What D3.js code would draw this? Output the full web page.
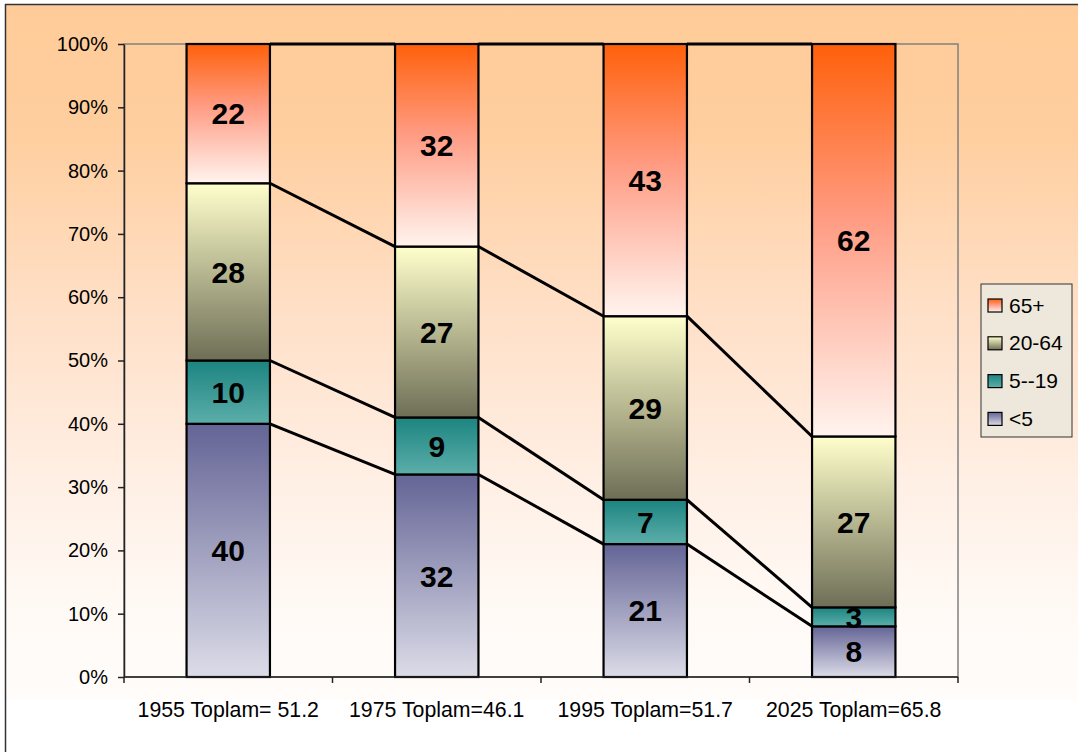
<!DOCTYPE html>
<html>
<head>
<meta charset="utf-8">
<script src="https://cdn.jsdelivr.net/npm/d3@7"></script>
<style>
  html, body { margin: 0; padding: 0; background: #ffffff; }
  svg { display: block; font-family: "Liberation Sans", Arial, sans-serif; }
</style>
</head>
<body>
<svg id="chart" width="1078" height="752"></svg>
<script>
// Age-group shares of the dependent population, by year
const categories = ["1955 Toplam= 51.2", "1975 Toplam=46.1", "1995 Toplam=51.7", "2025 Toplam=65.8"];
const seriesNames = ["<5", "5--19", "20-64", "65+"];
const under5   = [40, 32, 21, 8];
const age5to19 = [10, 9, 7, 3];
const age20to64 = [28, 27, 29, 27];
const age65plus = [22, 32, 43, 62];
const yTicks = [0, 10, 20, 30, 40, 50, 60, 70, 80, 90, 100];

const seriesValues = [under5, age5to19, age20to64, age65plus];

// gradient colours per series (top → bottom of each segment)
const gradients = {
  "<5":    [["0%", "#646496"], ["100%", "#DCDCE8"]],
  "5--19": [["0%", "#1C8480"], ["100%", "#5CAEAA"]],
  "20-64": [["0%", "#FFFFCC"], ["100%", "#6E6E56"]],
  "65+":   [["0%", "#FF600A"], ["45%", "#FF9C84"], ["100%", "#FFF4EE"]]
};
const gradId = { "<5": "g-u5", "5--19": "g-519", "20-64": "g-2064", "65+": "g-65" };

const svg = d3.select("#chart");
const defs = svg.append("defs");

// chart background
const bg = defs.append("linearGradient").attr("id", "bg").attr("x1", 0).attr("y1", 0).attr("x2", 0).attr("y2", 1);
[["0%", "#FFCC99"], ["18%", "#FFCE9E"], ["45%", "#FFE0C8"], ["70%", "#FFF0E6"], ["88%", "#FFFAF6"], ["100%", "#FFFCFA"]]
  .forEach(([o, c]) => bg.append("stop").attr("offset", o).attr("stop-color", c));

Object.entries(gradients).forEach(([name, stops]) => {
  const g = defs.append("linearGradient").attr("id", gradId[name])
    .attr("x1", 0).attr("y1", 0).attr("x2", 0).attr("y2", 1);
  stops.forEach(([o, c]) => g.append("stop").attr("offset", o).attr("stop-color", c));
});

svg.append("rect").attr("x", 5).attr("y", 4).attr("width", 1080).attr("height", 696).attr("fill", "url(#bg)");
// chart border (top and left edges visible)
svg.append("line").attr("x1", 5).attr("y1", 4.5).attr("x2", 1078).attr("y2", 4.5).attr("stroke", "#333").attr("stroke-width", 1.5);
svg.append("line").attr("x1", 5.5).attr("y1", 4).attr("x2", 5.5).attr("y2", 752).attr("stroke", "#333").attr("stroke-width", 1.5);

const plot = { left: 124, right: 958, top: 44, bottom: 677 };

const x = d3.scaleBand().domain(categories).range([plot.left, plot.right]).paddingInner(0.6).paddingOuter(0.3);
const y = d3.scaleLinear().domain([0, 100]).range([plot.bottom, plot.top]);

// plot area frame
svg.append("rect").attr("x", plot.left).attr("y", plot.top)
  .attr("width", plot.right - plot.left).attr("height", plot.bottom - plot.top)
  .attr("fill", "none").attr("stroke", "#808080").attr("stroke-width", 1.5);

// stacked data
const rows = categories.map((c, i) => {
  const r = { cat: c };
  seriesNames.forEach((s, k) => r[s] = seriesValues[k][i]);
  return r;
});
const stacked = d3.stack().keys(seriesNames)(rows);

// connecting lines between bars at each cumulative boundary
const lineG = svg.append("g");
stacked.forEach(layer => {
  for (let i = 0; i < categories.length - 1; i++) {
    lineG.append("line")
      .attr("x1", x(categories[i]) + x.bandwidth()).attr("y1", y(layer[i][1]))
      .attr("x2", x(categories[i + 1])).attr("y2", y(layer[i + 1][1]))
      .attr("stroke", "#000").attr("stroke-width", 3);
  }
});

// bars
const barG = svg.append("g");
stacked.forEach(layer => {
  barG.selectAll(null).data(layer).enter().append("rect")
    .attr("x", d => x(d.data.cat))
    .attr("y", d => y(d[1]))
    .attr("width", x.bandwidth())
    .attr("height", d => y(d[0]) - y(d[1]))
    .attr("fill", `url(#${gradId[layer.key]})`)
    .attr("stroke", "#000").attr("stroke-width", 2.2);
});

// value labels
stacked.forEach(layer => {
  barG.selectAll(null).data(layer).enter().append("text")
    .attr("x", d => x(d.data.cat) + x.bandwidth() / 2)
    .attr("y", d => y((d[0] + d[1]) / 2))
    .attr("dy", "0.36em")
    .attr("text-anchor", "middle")
    .attr("font-size", 30).attr("font-weight", "bold").attr("fill", "#000")
    .text(d => d[1] - d[0]);
});

// y axis
const yAxis = svg.append("g").attr("transform", `translate(${plot.left},0)`)
  .call(d3.axisLeft(y).tickValues(yTicks).tickFormat(d => d + "%").tickSize(6).tickSizeOuter(0).tickPadding(10));
yAxis.select(".domain").attr("stroke", "#222").attr("stroke-width", 1.5);
yAxis.selectAll(".tick line").attr("stroke", "#222").attr("stroke-width", 1.5);
yAxis.selectAll(".tick text").attr("font-size", 20).attr("fill", "#000")
  .attr("font-family", "'Liberation Sans', Arial, sans-serif");

// x axis: baseline, boundary ticks and category labels
const xAxis = svg.append("g");
xAxis.append("line").attr("x1", plot.left).attr("x2", plot.right)
  .attr("y1", plot.bottom).attr("y2", plot.bottom).attr("stroke", "#222").attr("stroke-width", 1.5);
d3.range(categories.length + 1).forEach(i => {
  const bx = x.range()[0] + i * x.step();
  xAxis.append("line").attr("x1", bx).attr("x2", bx).attr("y1", plot.bottom).attr("y2", plot.bottom + 6)
    .attr("stroke", "#222").attr("stroke-width", 1.5);
});
xAxis.selectAll(null).data(categories).enter().append("text")
  .attr("x", d => x(d) + x.bandwidth() / 2)
  .attr("y", 717)
  .attr("text-anchor", "middle")
  .attr("font-size", 21.3).attr("fill", "#000")
  .text(d => d);

// legend
const legend = svg.append("g").attr("transform", "translate(981,284)");
legend.append("rect").attr("width", 91).attr("height", 153)
  .attr("fill", "#EEE8DC").attr("stroke", "#333").attr("stroke-width", 1);
const legendOrder = seriesNames.slice().reverse();
legendOrder.forEach((s, i) => {
  const g = legend.append("g").attr("transform", `translate(0,${21 + i * 37.8})`);
  g.append("rect").attr("x", 7).attr("y", -6).attr("width", 14).attr("height", 13)
    .attr("fill", `url(#${gradId[s]})`).attr("stroke", "#000").attr("stroke-width", 1.2);
  g.append("text").attr("x", 28).attr("y", 0).attr("dy", "0.36em")
    .attr("font-size", 21).attr("fill", "#000").text(s);
});
</script>
</body>
</html>
